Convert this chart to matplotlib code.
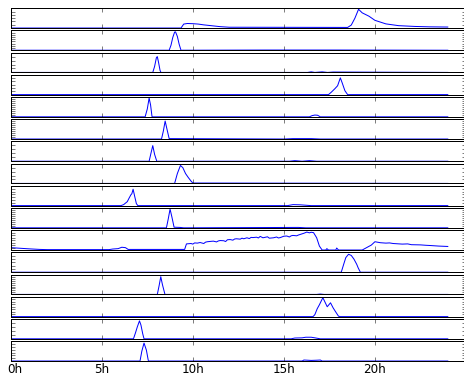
"""
Daily activity profiles, one strip per day, stacked over a shared 0-24h axis.
"""

import numpy as np
import matplotlib
matplotlib.use("Agg")
import matplotlib.pyplot as plt
from matplotlib.transforms import ScaledTranslation

plt.style.use('classic')

hours = [
    [0, 9.35, 9.5, 9.7, 10.0, 10.3, 10.6, 11.0, 11.5, 12.0, 18.5, 18.7, 18.9, 19.1,
     19.3, 19.67, 20.0, 20.6, 21.3, 22.2, 23.0, 24.0],
    [0, 8.7, 8.8, 8.9, 9.0, 9.05, 9.15, 9.25, 9.35, 14.0, 16.0, 18.0, 24.0],
    [0, 7.8, 7.9, 8.0, 8.05, 8.12, 8.2, 8.25, 16.3, 16.5, 16.7, 17.1, 17.4, 17.7, 24.0],
    [0, 17.45, 17.6, 17.8, 17.95, 18.1, 18.2, 18.35, 18.5, 24.0],
    [0, 7.38, 7.5, 7.6, 7.68, 7.76, 16.4, 16.55, 16.7, 16.85, 17.0, 24.0],
    [0, 8.28, 8.38, 8.48, 8.58, 8.7, 15.0, 15.5, 16.5, 17.0, 24.0],
    [0, 7.6, 7.7, 7.8, 7.9, 8.02, 15.3, 15.6, 16.0, 16.4, 16.8, 24.0],
    [0, 9.0, 9.15, 9.32, 9.45, 9.6, 9.75, 9.9, 10.0, 24.0],
    [0, 6.05, 6.2, 6.4, 6.5, 6.6, 6.65, 6.72, 6.8, 6.9, 6.98, 15.2, 15.5, 15.9, 16.5, 24.0],
    [0, 8.55, 8.65, 8.75, 8.85, 8.97, 9.3, 9.5, 15.8, 16.2, 24.0],
    [0, 0.5, 1.0, 1.6, 2.0, 5.4, 5.6, 5.9, 6.1, 6.3, 6.45, 9.55, 9.65, 9.9, 10.0, 10.1,
     10.25, 10.4, 10.6, 10.7, 10.8, 11.0, 11.13, 11.3, 11.4, 11.5, 11.7, 11.8, 11.9,
     12.05, 12.2, 12.3, 12.4, 12.6, 12.7, 12.8, 12.97, 13.1, 13.2, 13.3, 13.5, 13.6,
     13.7, 13.85, 14.0, 14.1, 14.2, 14.43, 14.6, 14.7, 14.8, 15.0, 15.16, 15.3, 15.4,
     15.5, 15.7, 15.8, 15.9, 16.1, 16.26, 16.4, 16.5, 16.63, 16.8, 16.95, 17.1, 17.3,
     17.36, 17.45, 17.85, 17.9, 18.0, 19.3, 19.5, 19.8, 20.0, 20.3, 20.6, 20.8, 21.0,
     21.5, 21.8, 22.0, 22.5, 22.8, 23.0, 23.5, 24.0],
    [0, 18.15, 18.3, 18.4, 18.55, 18.7, 18.85, 19.0, 19.08, 19.2, 24.0],
    [0, 8.05, 8.15, 8.24, 8.33, 8.47, 16.8, 17.0, 17.2, 24.0],
    [0, 16.6, 16.7, 16.83, 16.95, 17.14, 17.25, 17.38, 17.56, 17.7, 17.83, 18.0, 18.1, 24.0],
    [0, 6.74, 6.85, 6.95, 7.07, 7.15, 7.25, 7.32, 15.4, 15.6, 16.0, 16.2, 16.5, 16.7, 17.0, 24.0],
    [0, 7.1, 7.2, 7.32, 7.45, 7.56, 16.0, 16.1, 16.5, 16.8, 17.0, 17.1, 24.0],
]

levels = [
    [0, 0, 0.2, 0.23, 0.22, 0.2, 0.16, 0.12, 0.07, 0.04, 0.03, 0.15, 0.5, 0.95,
     0.77, 0.6, 0.39, 0.21, 0.12, 0.08, 0.06, 0.05],
    [0, 0, 0.25, 0.65, 0.92, 0.93, 0.7, 0.3, 0, 0.01, 0.01, 0.01, 0],
    [0, 0, 0.3, 0.75, 0.8, 0.5, 0.1, 0, 0, 0.03, 0, 0.03, 0, 0.02, 0],
    [0, 0, 0.12, 0.3, 0.45, 0.85, 0.6, 0.2, 0, 0],
    [0, 0, 0.4, 0.95, 0.6, 0, 0, 0.06, 0.09, 0.08, 0, 0],
    [0, 0, 0.4, 0.91, 0.5, 0.02, 0, 0.02, 0.02, 0, 0],
    [0, 0, 0.4, 0.79, 0.35, 0, 0, 0.03, 0, 0.03, 0, 0],
    [0, 0, 0.5, 0.91, 0.8, 0.5, 0.3, 0.12, 0.02, 0],
    [0, 0, 0.05, 0.2, 0.38, 0.55, 0.6, 0.83, 0.5, 0.1, 0, 0, 0.05, 0.04, 0, 0],
    [0, 0, 0.45, 0.95, 0.55, 0.03, 0.02, 0, 0.02, 0, 0],
    [0.12, 0.09, 0.06, 0.03, 0.02, 0.02, 0.05, 0.07, 0.14, 0.12, 0.03, 0.03, 0.31,
     0.33, 0.3, 0.36, 0.35, 0.38, 0.33, 0.4, 0.42, 0.44, 0.45, 0.41, 0.46, 0.48, 0.47,
     0.43, 0.52, 0.53, 0.5, 0.56, 0.57, 0.55, 0.6, 0.57, 0.62, 0.58, 0.64, 0.63, 0.65,
     0.61, 0.69, 0.62, 0.65, 0.67, 0.6, 0.62, 0.66, 0.61, 0.63, 0.7, 0.71, 0.66, 0.72,
     0.74, 0.72, 0.76, 0.79, 0.85, 0.91, 0.87, 0.9, 0.88, 0.62, 0.2, 0, 0, 0.07, 0,
     0, 0.1, 0, 0, 0.1, 0.25, 0.42, 0.37, 0.35, 0.36, 0.33, 0.3, 0.31, 0.27, 0.26,
     0.24, 0.23, 0.2, 0.18],
    [0, 0, 0.45, 0.74, 0.91, 0.85, 0.66, 0.4, 0.22, 0, 0],
    [0, 0, 0.45, 0.9, 0.5, 0, 0, 0.02, 0, 0],
    [0, 0, 0.1, 0.4, 0.6, 0.96, 0.75, 0.5, 0.7, 0.45, 0.26, 0.02, 0, 0],
    [0, 0, 0.3, 0.6, 0.91, 0.7, 0.25, 0, 0, 0.04, 0.05, 0.08, 0.08, 0.05, 0, 0],
    [0, 0, 0.5, 0.91, 0.55, 0, 0, 0.05, 0.03, 0.04, 0.05, 0, 0],
]

ytick_counts = [7, 10, 6, 7, 11, 11, 6, 6, 8, 11, 9, 7, 11, 9, 6, 8]
xtick_hours = [0, 5, 10, 15, 20, 25]
xtick_labels = ['0h', '5h', '10h', '15h', '20h', '']

fig, axes = plt.subplots(len(hours), 1, sharex=True,
                         figsize=(464 / 72, 377 / 72), dpi=72)
fig.subplots_adjust(left=0.0231, right=1.0043, top=0.978, bottom=0.0424, hspace=0.125)

for ax, h, v, n in zip(axes, hours, levels, ytick_counts):
    ax.plot(h, v, color='b', lw=1)
    ax.set_ylim(0, 1)
    ax.set_yticks(np.linspace(0, 1, n))
    ax.set_yticklabels([])
    ax.tick_params(axis='x', length=4)

axes[-1].set_xlim(0, 25)
axes[-1].set_xticks(xtick_hours)
axes[-1].set_xticklabels(xtick_labels, fontsize=12)
axes[-1].tick_params(axis='x', pad=2)

# the first label sits a little right of its tick so it is not cut at the edge
first = axes[-1].get_xticklabels()[0]
first.set_transform(first.get_transform() + ScaledTranslation(4.5 / 72, 0, fig.dpi_scale_trans))

fig.savefig('out.png', dpi=72, facecolor='w')
